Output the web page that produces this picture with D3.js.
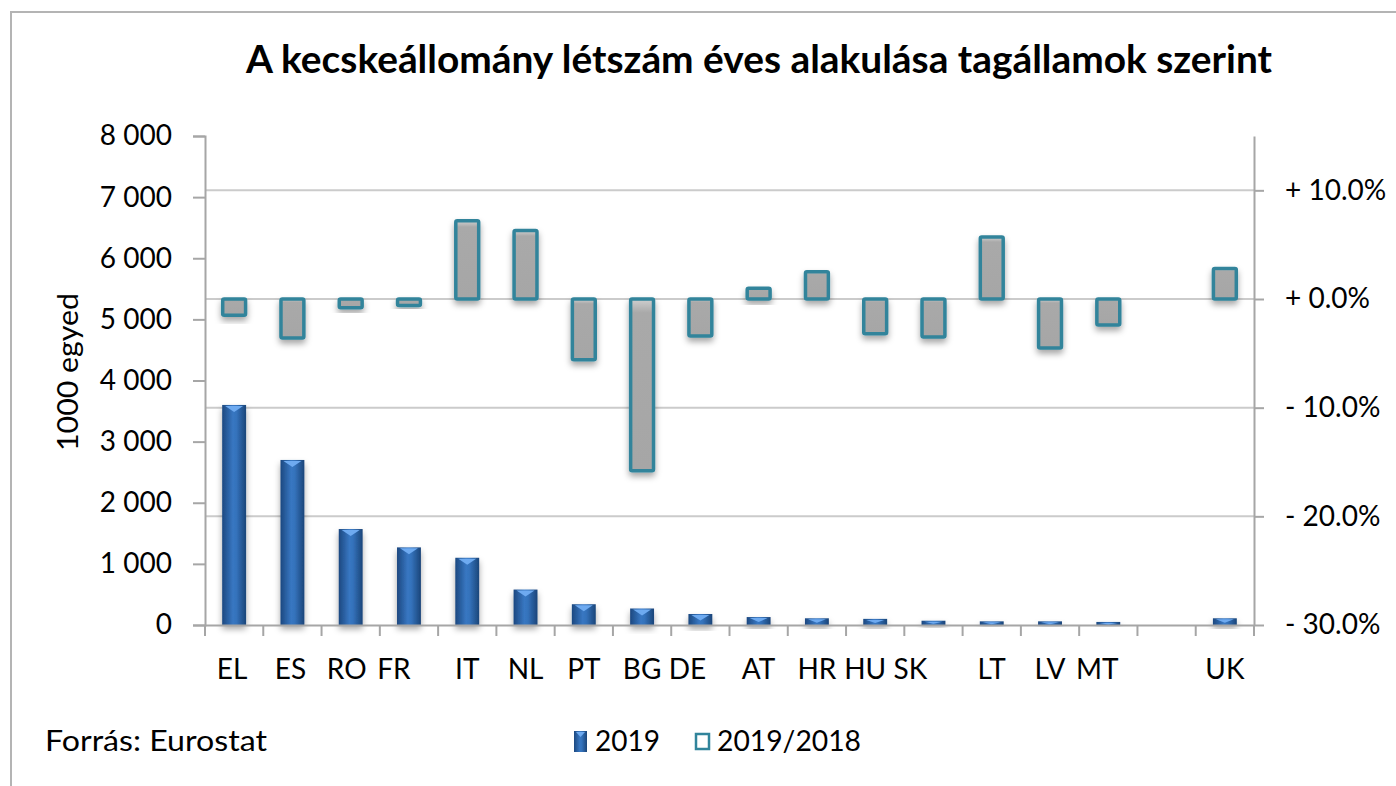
<!DOCTYPE html>
<html>
<head>
<meta charset="utf-8">
<script src="https://cdn.jsdelivr.net/npm/d3@7"></script>
<style>
  body { margin: 0; background: #fff; }
  svg { display: block; font-family: Lato, "Open Sans", sans-serif; }
</style>
</head>
<body>
<svg id="chart" width="1396" height="786"></svg>
<script>
const categories = ["EL", "ES", "RO", "FR", "IT", "NL", "PT", "BG", "DE", "AT", "HR", "HU", "SK", "LT", "LV", "MT", "", "UK"];
const heads2019 = [3600, 2700, 1570, 1270, 1100, 580, 340, 270, 180, 130, 110, 100, 70, 60, 60, 50, null, 110];
const change1918 = [-1.5, -3.6, -0.8, -0.6, 7.2, 6.3, -5.6, -15.8, -3.4, 1.0, 2.5, -3.2, -3.5, 5.7, -4.5, -2.4, null, 2.8];
const leftTicks = [0, 1000, 2000, 3000, 4000, 5000, 6000, 7000, 8000];
const rightTicks = [-30, -20, -10, 0, 10];
const legendLabels = ["2019", "2019/2018"];

const svg = d3.select("#chart");
const plotLeft = 205, plotRight = 1254, plotTop = 136, plotBottom = 625;
const axisColor = "#a6a6a6", gridColor = "#cbcbcb", teal = "#31849b";

// outer frame (only top and left edge visible in the picture)
svg.append("path").attr("d", "M11,786 V12 H1396").attr("fill", "none").attr("stroke", "#b4b4b4").attr("stroke-width", 2);

const defs = svg.append("defs");
const blue = defs.append("linearGradient").attr("id", "blueGrad").attr("x1", 0).attr("x2", 1).attr("y1", 0).attr("y2", 0);
blue.append("stop").attr("offset", "0%").attr("stop-color", "#1c4880");
blue.append("stop").attr("offset", "45%").attr("stop-color", "#3877c2");
blue.append("stop").attr("offset", "60%").attr("stop-color", "#3472bb");
blue.append("stop").attr("offset", "100%").attr("stop-color", "#1b4579");
const grey = defs.append("linearGradient").attr("id", "greyGrad").attr("x1", 0).attr("x2", 0).attr("y1", 0).attr("y2", 1);
grey.append("stop").attr("offset", "0%").attr("stop-color", "#d0d0d0");
grey.append("stop").attr("offset", "8%").attr("stop-color", "#a9a9a9");
grey.append("stop").attr("offset", "100%").attr("stop-color", "#a6a6a6");
const shadow = defs.append("filter").attr("id", "shadow").attr("x", "-50%").attr("y", "-50%").attr("width", "200%").attr("height", "200%");
shadow.append("feDropShadow").attr("dx", 0).attr("dy", 4).attr("stdDeviation", 3).attr("flood-color", "#000").attr("flood-opacity", 0.35);

const x = d3.scaleBand().domain(categories).range([plotLeft, plotRight]).paddingInner(0.59).paddingOuter(0.295);
const yL = d3.scaleLinear().domain([0, 8000]).range([plotBottom, plotTop]);
const yR = d3.scaleLinear().domain([-30, 15]).range([plotBottom, plotTop]);
const gap = (x.step() - x.bandwidth()) / 2;

// title
svg.append("text").attr("x", 246).attr("y", 73)
    .attr("font-size", 39).attr("font-weight", 700).attr("fill", "#000")
    .attr("textLength", 1026).attr("lengthAdjust", "spacingAndGlyphs")
    .text("A kecskeállomány létszám éves alakulása tagállamok szerint");

// gridlines from the right axis
svg.append("g").selectAll("line").data(rightTicks.filter(d => d > -30)).enter().append("line")
    .attr("x1", plotLeft).attr("x2", plotRight).attr("y1", d => yR(d)).attr("y2", d => yR(d))
    .attr("stroke", gridColor).attr("stroke-width", 2);

const idx = categories.map((c, i) => i);

// 2019 bars
const gBlue = svg.append("g");
gBlue.selectAll("rect").data(idx.filter(i => heads2019[i] != null)).enter().append("rect")
    .attr("x", i => x(categories[i])).attr("width", x.bandwidth())
    .attr("y", i => yL(heads2019[i])).attr("height", i => yL(0) - yL(heads2019[i]))
    .attr("fill", "url(#blueGrad)").attr("filter", "url(#shadow)");
gBlue.selectAll("path").data(idx.filter(i => heads2019[i] != null)).enter().append("path")
    .attr("d", i => {
        const x0 = x(categories[i]), w = x.bandwidth(), y0 = yL(heads2019[i]);
        const h = Math.min(6, (yL(0) - y0) / 2);
        return `M${x0 + 3},${y0 + 1} L${x0 + w - 3},${y0 + 1} L${x0 + w / 2},${y0 + 1 + h} Z`;
    })
    .attr("fill", "#6eaaf0");

// 2019/2018 change bars
svg.append("g").selectAll("rect").data(idx.filter(i => change1918[i] != null)).enter().append("rect")
    .attr("x", i => x(categories[i]) + 0.5).attr("width", x.bandwidth() - 1)
    .attr("y", i => Math.min(yR(change1918[i]), yR(0)))
    .attr("height", i => Math.abs(yR(change1918[i]) - yR(0)))
    .attr("rx", 1.5)
    .attr("fill", "url(#greyGrad)").attr("stroke", teal).attr("stroke-width", 3.5)
    .attr("filter", "url(#shadow)");

function styleAxis(g) {
    g.select(".domain").attr("stroke", axisColor).attr("stroke-width", 2);
    g.selectAll(".tick line").attr("stroke", axisColor).attr("stroke-width", 2);
    g.selectAll(".tick text").attr("fill", "#000").attr("font-size", 28).attr("font-family", "Lato, sans-serif");
}

// left axis
const fmtThousands = d => d3.format(",")(d).replace(/,/g, " ");
svg.append("g").attr("transform", `translate(${plotLeft},0)`)
    .call(d3.axisLeft(yL).tickValues(leftTicks).tickSize(12).tickPadding(21).tickFormat(fmtThousands))
    .call(styleAxis);

// right axis
const fmtPct = d => (d >= 0 ? "+ " : "- ") + Math.abs(d).toFixed(1) + "%";
svg.append("g").attr("transform", `translate(${plotRight},0)`)
    .call(d3.axisRight(yR).tickValues(rightTicks).tickSize(10).tickSizeOuter(0).tickPadding(21).tickFormat(fmtPct))
    .call(styleAxis);

// bottom axis with category boundary ticks
const labelNudge = { EL: -2, ES: -2, RO: -4, FR: -15, DE: -13, HU: -10, SK: -23, MT: -11 };
const gx = svg.append("g").attr("transform", `translate(0,${plotBottom})`)
    .call(d3.axisBottom(x).tickSize(0).tickSizeOuter(0).tickPadding(34))
    .call(styleAxis);
gx.selectAll(".tick text").attr("dx", d => labelNudge[d] || 0);
gx.selectAll(".boundary").data(d3.range(categories.length + 1)).enter().append("line")
    .attr("class", "boundary")
    .attr("x1", i => i < categories.length ? x(categories[i]) - gap : x(categories[i - 1]) + x.bandwidth() + gap)
    .attr("x2", i => i < categories.length ? x(categories[i]) - gap : x(categories[i - 1]) + x.bandwidth() + gap)
    .attr("y1", 0).attr("y2", 11)
    .attr("stroke", axisColor).attr("stroke-width", 2);

// y axis title
svg.append("text").attr("transform", "translate(78,372) rotate(-90)")
    .attr("text-anchor", "middle").attr("font-size", 29).attr("fill", "#000")
    .attr("textLength", 158).attr("lengthAdjust", "spacingAndGlyphs")
    .text("1000 egyed");

// source note
svg.append("text").attr("x", 45).attr("y", 751).attr("font-size", 29).attr("fill", "#000")
    .attr("textLength", 222).attr("lengthAdjust", "spacingAndGlyphs")
    .text("Forrás: Eurostat");

// legend
const lg = svg.append("g");
lg.append("rect").attr("x", 574).attr("y", 731).attr("width", 13).attr("height", 21).attr("fill", "url(#blueGrad)");
lg.append("path").attr("d", "M576,732 L585,732 L580.5,737 Z").attr("fill", "#6eaaf0");
lg.append("text").attr("x", 595).attr("y", 751).attr("font-size", 28).attr("fill", "#000").text(legendLabels[0]);
lg.append("rect").attr("x", 696).attr("y", 734).attr("width", 13).attr("height", 15)
    .attr("fill", "#fff").attr("stroke", teal).attr("stroke-width", 2.5);
lg.append("text").attr("x", 717).attr("y", 751).attr("font-size", 28).attr("fill", "#000")
    .attr("textLength", 144).attr("lengthAdjust", "spacingAndGlyphs").text(legendLabels[1]);
</script>
</body>
</html>
